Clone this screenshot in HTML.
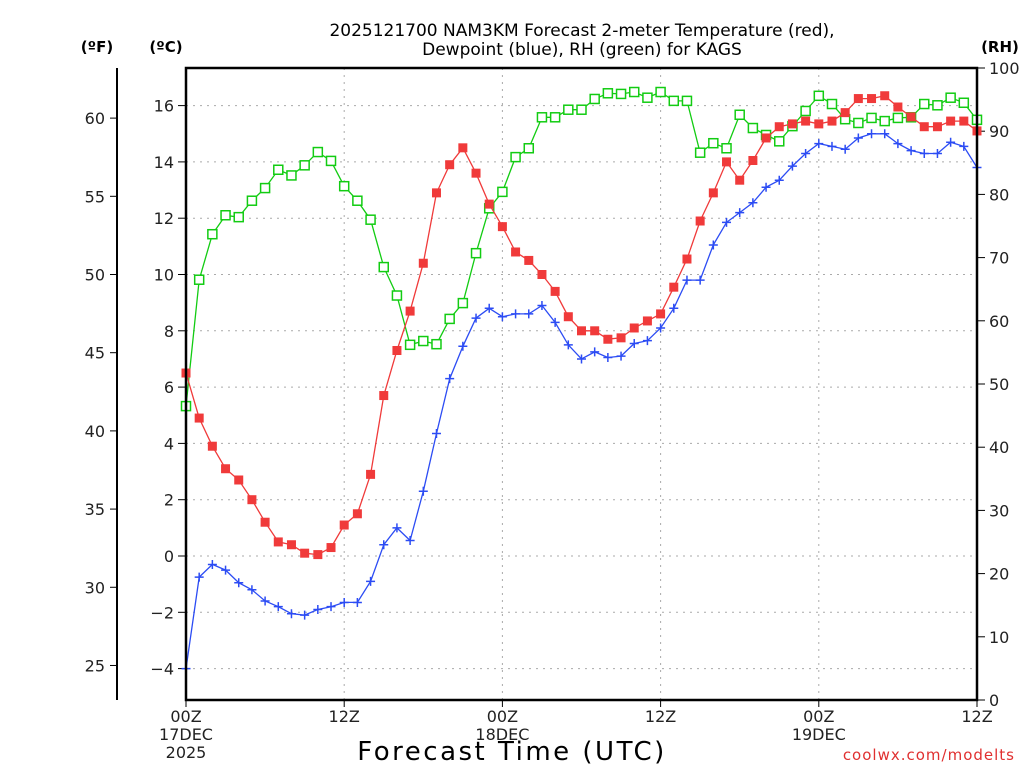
<!DOCTYPE html>
<html><head><meta charset="utf-8"><style>
body{margin:0;background:#fff;}
svg{display:block;font-family:"DejaVu Sans","Liberation Sans",sans-serif;}
</style></head><body>
<svg id="chart" width="1024" height="768" viewBox="0 0 1024 768">
<text x="582" y="36" text-anchor="middle" font-size="17" fill="#000">2025121700 NAM3KM Forecast 2-meter Temperature (red),</text>
<text x="582" y="55" text-anchor="middle" font-size="17" fill="#000">Dewpoint (blue), RH (green) for KAGS</text>
<text x="97" y="52" text-anchor="middle" font-size="15" font-weight="bold">(ºF)</text>
<text x="166" y="52" text-anchor="middle" font-size="15" font-weight="bold">(ºC)</text>
<text x="1000" y="52" text-anchor="middle" font-size="15" font-weight="bold">(RH)</text>
<g id="grid"></g><g id="axes"></g><g id="series"></g>
<rect x="186" y="68" width="791" height="632" fill="none" stroke="#000" stroke-width="2.5"/>
<line x1="117" y1="68" x2="117" y2="700" stroke="#000" stroke-width="2"/>
<text x="512" y="760" text-anchor="middle" font-size="26" letter-spacing="2.5" fill="#000">Forecast Time (UTC)</text>
<text x="1015" y="760" text-anchor="end" font-size="15" fill="#e03030" letter-spacing="1">coolwx.com/modelts</text>
</svg>
<script>
const hours=[];for(let i=0;i<=60;i++)hours.push(i);
const tempC=[6.5,4.9,3.9,3.1,2.7,2.0,1.2,0.5,0.4,0.1,0.05,0.3,1.1,1.5,2.9,5.7,7.3,8.7,10.4,12.9,13.9,14.5,13.6,12.5,11.7,10.8,10.5,10.0,9.4,8.5,8.0,8.0,7.7,7.75,8.1,8.35,8.6,9.55,10.55,11.9,12.9,14.0,13.35,14.05,14.85,15.25,15.35,15.45,15.35,15.45,15.75,16.25,16.25,16.35,15.95,15.6,15.25,15.25,15.45,15.45,15.1];
const dewC=[-4.0,-0.75,-0.3,-0.5,-0.95,-1.2,-1.6,-1.8,-2.05,-2.1,-1.9,-1.8,-1.65,-1.65,-0.9,0.4,1.0,0.55,2.3,4.35,6.3,7.45,8.45,8.8,8.5,8.6,8.6,8.9,8.3,7.5,7.0,7.25,7.05,7.1,7.55,7.65,8.1,8.8,9.8,9.8,11.05,11.85,12.2,12.55,13.1,13.35,13.85,14.3,14.65,14.55,14.45,14.85,15.0,15.0,14.65,14.4,14.3,14.3,14.7,14.55,13.8];
const rh=[46.5,66.5,73.7,76.7,76.4,79,81,83.9,83,84.6,86.7,85.3,81.3,79,76,68.5,64,56.2,56.8,56.3,60.3,62.8,70.7,77.8,80.4,85.9,87.3,92.2,92.2,93.4,93.4,95.1,96,95.9,96.2,95.3,96.2,94.8,94.8,86.6,88.1,87.3,92.6,90.5,89.4,88.4,90.8,93.2,95.6,94.3,91.9,91.3,92.1,91.6,92.1,92.2,94.3,94.1,95.3,94.5,91.8];
const cTicks=[-4,-2,0,2,4,6,8,10,12,14,16];
const fTicks=[25,30,35,40,45,50,55,60];
const rhTicks=[0,10,20,30,40,50,60,70,80,90,100];
const xTickHours=[0,12,24,36,48,60];
const xTickLabels=[["00Z","17DEC","2025"],["12Z"],["00Z","18DEC"],["12Z"],["00Z","19DEC"],["12Z"]];

const X0=186,X1=977,Y0=68,Y1=700;
const xs=h=>X0+(X1-X0)*h/60;
const yC=c=>556-28.15*c;
const yF=f=>yC((f-32)*5/9);
const yR=r=>Y1-(Y1-Y0)*r/100;
const NS="http://www.w3.org/2000/svg";
function mk(tag,attrs,parent){const e=document.createElementNS(NS,tag);for(const k in attrs)e.setAttribute(k,attrs[k]);parent.appendChild(e);return e;}
const grid=document.getElementById('grid'),axes=document.getElementById('axes'),ser=document.getElementById('series');

cTicks.forEach(c=>{
  const y=yC(c);
  const g=mk('line',{x1:X0,x2:X1,y1:y,y2:y,stroke:'#aaa','stroke-dasharray':'2,5'},grid);
  
  
  const t=mk('line',{x1:X0-8,x2:X0,y1:y,y2:y,stroke:'#000'},axes);
  
  
  const l=mk('text',{x:X0-12,y:y+6,'text-anchor':'end','font-size':'16',fill:'#222'},axes);
  l.textContent=c<0?'\u2212'+(-c):c;
  
  
});
fTicks.forEach(f=>{
  const y=yF(f);
  const t=mk('line',{x1:110,x2:117,y1:y,y2:y,stroke:'#000'},axes);
  
  
  const l=mk('text',{x:105,y:y+6,'text-anchor':'end','font-size':'16',fill:'#222'},axes);
  l.textContent=f;
  
  
});
rhTicks.forEach(r=>{
  const y=yR(r);
  const t=mk('line',{x1:X1,x2:X1+8,y1:y,y2:y,stroke:'#000'},axes);
  
  
  const l=mk('text',{x:X1+12,y:y+6,'text-anchor':'start','font-size':'16',fill:'#222'},axes);
  l.textContent=r;
  
  
});
xTickHours.forEach((h,i)=>{
  const x=xs(h);
  if(h>0&&h<60){const g=mk('line',{x1:x,x2:x,y1:Y0,y2:Y1,stroke:'#aaa','stroke-dasharray':'2,5'},grid);
  
  }
  const t=mk('line',{x1:x,x2:x,y1:Y1,y2:Y1+7,stroke:'#000'},axes);
  
  
  xTickLabels[i].forEach((s,j)=>{
    const l=mk('text',{x:x,y:722+j*18,'text-anchor':'middle','font-size':'16',fill:'#222'},axes);
    l.textContent=s;
    
    
  });
});
function drawSeries(vals,yfn,color,name,marker){
  const pts=vals.map((v,i)=>xs(hours[i]).toFixed(1)+','+yfn(v).toFixed(1)).join(' ');
  const pl=mk('polyline',{points:pts,fill:'none',stroke:color,'stroke-width':'1.3'},ser);
  
  
  vals.forEach((v,i)=>{
    const x=xs(hours[i]),y=yfn(v);let m;
    if(marker==='fill')m=mk('rect',{x:x-4.5,y:y-4.5,width:9,height:9,fill:color},ser);
    else if(marker==='open')m=mk('rect',{x:x-4.5,y:y-4.5,width:9,height:9,fill:'#fff',stroke:color,'stroke-width':'1.5'},ser);
    else m=mk('path',{d:`M${x-4.5},${y}H${x+4.5}M${x},${y-4.5}V${y+4.5}`,stroke:color,'stroke-width':'1.5'},ser);
    
    
  });
}
drawSeries(rh,yR,'#12cc12','rh','open');
drawSeries(tempC,yC,'#f03a3a','temperature','fill');
drawSeries(dewC,yC,'#2c4cf4','dewpoint','plus');
</script>
</body></html>
